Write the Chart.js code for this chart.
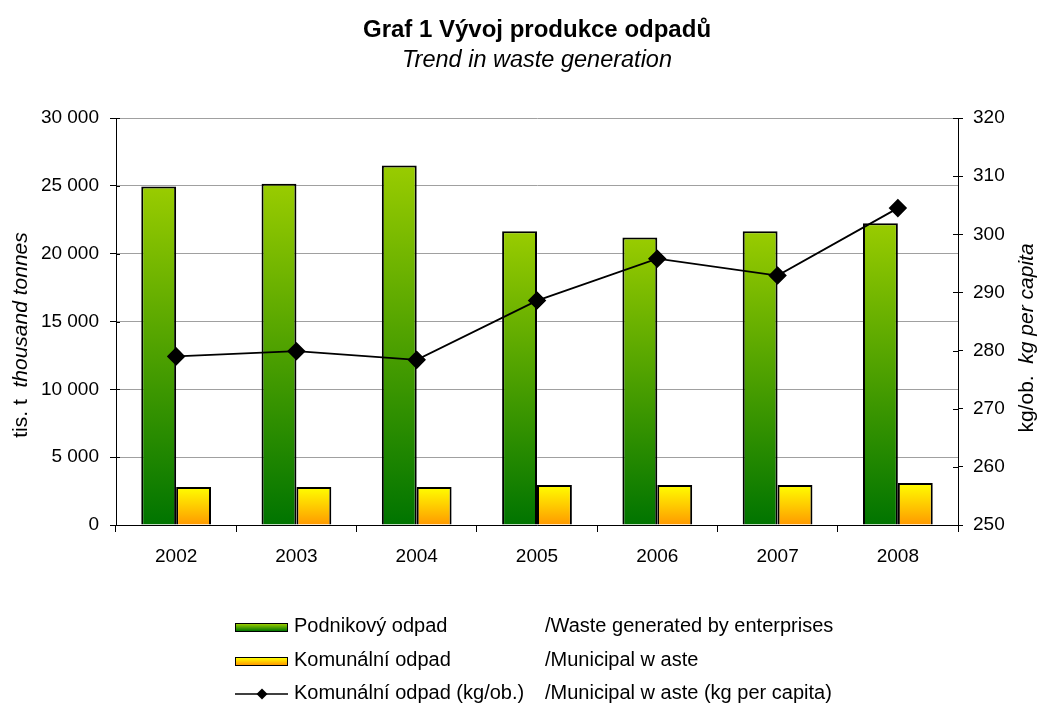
<!DOCTYPE html>
<html>
<head>
<meta charset="utf-8">
<script src="https://cdn.jsdelivr.net/npm/chart.js@4"></script>
<style>
  body { margin: 0; background: #fff; font-family: 'Liberation Sans', Arial, sans-serif; }
  #wrap { position: relative; width: 1040px; height: 706px; }
  #legend { position: absolute; left: 0; top: 0; font-size: 20px; color: #000; }
  .row { position: absolute; height: 20px; line-height: 20px; white-space: nowrap; }
  .row span { position: absolute; top: 0; }
  .sw { position: absolute; left: 0; top: 8px; width: 51px; height: 7px; border: 1px solid #000; }
</style>
</head>
<body>
<div id="wrap">
  <canvas id="c" width="1040" height="706"></canvas>
  <div id="legend"></div>
</div>
<script>
const years      = ['2002', '2003', '2004', '2005', '2006', '2007', '2008'];
const enterprise = [24950, 25150, 26500, 21650, 21200, 21650, 22250];
const municipal  = [2800, 2800, 2800, 2950, 2950, 2950, 3100];
const perCapita  = [279.0, 279.9, 278.4, 288.6, 295.8, 292.9, 304.5];

const legendRows = [
  ['Podnikový odpad', '/Waste generated by enterprises'],
  ['Komunální odpad', '/Municipal w aste'],
  ['Komunální odpad (kg/ob.)', '/Municipal w aste (kg per capita)'],
];

const FONT = "'Liberation Sans', Arial, sans-serif";
Chart.defaults.font.family = FONT;
Chart.defaults.font.size = 19;
Chart.defaults.color = '#000';

function barGradient(top, bottom) {
  return ctx => {
    const chart = ctx.chart;
    if (!chart.chartArea || ctx.type !== 'data') return bottom;
    const y = chart.scales.y;
    const y0 = y.getPixelForValue(ctx.raw);
    const y1 = y.getPixelForValue(0);
    const g = chart.ctx.createLinearGradient(0, y0, 0, y1);
    g.addColorStop(0, top);
    g.addColorStop(1, bottom);
    return g;
  };
}

// titles, two-style axis titles and the inner half of the y tick marks
const textPlugin = {
  id: 'texts',
  afterDraw(chart) {
    const c = chart.ctx;
    const a = chart.chartArea;
    const cx = (a.left + a.right) / 2;
    c.save();
    c.fillStyle = '#000';
    c.textAlign = 'center';
    c.textBaseline = 'alphabetic';
    c.font = 'bold 24px ' + FONT;
    c.fillText('Graf 1 Vývoj produkce odpadů', cx, 37);
    c.font = 'italic 23.5px ' + FONT;
    c.fillText('Trend in waste generation', cx, 67);

    function rotated(x, cy, parts) {
      c.save();
      c.translate(x, cy);
      c.rotate(-Math.PI / 2);
      c.textAlign = 'left';
      c.textBaseline = 'middle';
      let w = 0;
      parts.forEach(p => { c.font = p[1] + ' 21px ' + FONT; w += c.measureText(p[0]).width; });
      let pos = -w / 2;
      parts.forEach(p => {
        c.font = p[1] + ' 21px ' + FONT;
        c.fillText(p[0], pos, 0);
        pos += c.measureText(p[0]).width;
      });
      c.restore();
    }
    rotated(21, 335, [['tis. t  ', 'normal'], ['thousand tonnes', 'italic']]);
    rotated(1027, 338, [['kg/ob.  ', 'normal'], ['kg per capita', 'italic']]);

    c.strokeStyle = '#000';
    c.lineWidth = 1;
    const y = chart.scales.y, y2 = chart.scales.y2;
    y.ticks.forEach(t => {
      const p = Math.round(y.getPixelForValue(t.value)) + 0.5;
      c.beginPath(); c.moveTo(a.left, p); c.lineTo(a.left + 4, p); c.stroke();
    });
    y2.ticks.forEach(t => {
      const p = Math.round(y2.getPixelForValue(t.value)) + 0.5;
      c.beginPath(); c.moveTo(a.right - 5, p); c.lineTo(a.right, p); c.stroke();
    });
    c.restore();
  }
};

const chart = new Chart(document.getElementById('c'), {
  data: {
    labels: years,
    datasets: [
      {
        type: 'line',
        label: legendRows[2][0],
        data: perCapita,
        yAxisID: 'y2',
        borderColor: '#000',
        borderWidth: 1.8,
        pointStyle: 'rectRot',
        pointRadius: 8,
        pointBackgroundColor: '#000',
        pointBorderColor: '#000',
        tension: 0,
        order: 0,
      },
      {
        type: 'bar',
        label: legendRows[0][0],
        data: enterprise,
        yAxisID: 'y',
        backgroundColor: barGradient('#99cc00', '#007400'),
        borderColor: '#000',
        borderWidth: 2,
        barPercentage: 1.0,
        categoryPercentage: 0.58,
        order: 1,
      },
      {
        type: 'bar',
        label: legendRows[1][0],
        data: municipal,
        yAxisID: 'y',
        backgroundColor: barGradient('#ffff00', '#ff9900'),
        borderColor: '#000',
        borderWidth: 2,
        barPercentage: 1.0,
        categoryPercentage: 0.58,
        order: 1,
      },
    ],
  },
  options: {
    responsive: false,
    animation: false,
    layout: { padding: { top: 118, left: 0, right: 0, bottom: 0 } },
    plugins: { legend: { display: false }, tooltip: { enabled: false } },
    scales: {
      x: {
        afterFit: s => { s.height = 181; },
        grid: { offset: true, drawOnChartArea: false, tickLength: 7, color: '#000' },
        border: { color: '#000', width: 1 },
        ticks: { padding: 13 },
      },
      y: {
        position: 'left',
        min: 0,
        max: 30000,
        afterFit: s => { s.width = 116; },
        ticks: {
          stepSize: 5000,
          padding: 11,
          callback: v => v >= 1000 ? Math.floor(v / 1000) + ' ' + String(v % 1000).padStart(3, '0') : v,
        },
        grid: { color: '#a0a0a0', tickColor: '#000', tickLength: 6 },
        border: { color: '#000', width: 1 },
      },
      y2: {
        position: 'right',
        min: 250,
        max: 320,
        afterFit: s => { s.width = 82; },
        ticks: { stepSize: 10, padding: 10 },
        grid: { drawOnChartArea: false, color: '#000', tickLength: 5 },
        border: { color: '#000', width: 1 },
      },
    },
  },
  plugins: [textPlugin],
});

// legend built from the same labels
const legend = document.getElementById('legend');
const rowTops = [615, 649, 682];
legendRows.forEach((r, i) => {
  const row = document.createElement('div');
  row.className = 'row';
  row.style.left = '235px';
  row.style.top = rowTops[i] + 'px';
  let marker;
  if (i < 2) {
    marker = document.createElement('div');
    marker.className = 'sw';
    marker.style.background = i === 0
      ? 'linear-gradient(#99cc00, #007400)'
      : 'linear-gradient(#ffff00, #ff9900)';
  } else {
    marker = document.createElementNS('http://www.w3.org/2000/svg', 'svg');
    marker.setAttribute('width', '54');
    marker.setAttribute('height', '26');
    marker.style.position = 'absolute';
    marker.style.left = '0';
    marker.style.top = '0';
    marker.innerHTML = '<line x1="0" y1="12" x2="53" y2="12" stroke="#000" stroke-width="1.5"/>' +
      '<polygon points="27,6.5 32.5,12 27,17.5 21.5,12" fill="#000"/>';
  }
  row.appendChild(marker);
  const a = document.createElement('span');
  a.style.left = '59px';
  a.textContent = r[0];
  const b = document.createElement('span');
  b.style.left = '310px';
  b.textContent = r[1];
  row.appendChild(a);
  row.appendChild(b);
  legend.appendChild(row);
});
</script>
</body>
</html>
